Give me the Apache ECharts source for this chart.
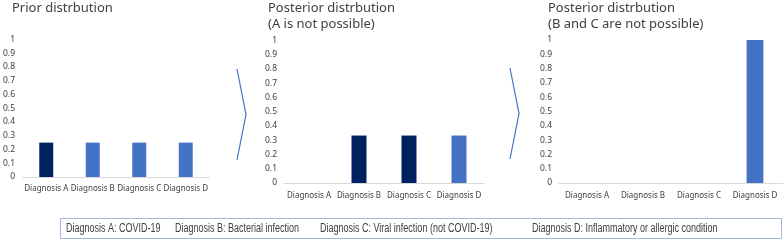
<!DOCTYPE html>
<html>
<head>
<meta charset="utf-8">
<script src="https://cdn.jsdelivr.net/npm/echarts@6/dist/echarts.min.js"></script>
<style>
  html, body { margin: 0; padding: 0; background: #fff; }
  #chart { width: 784px; height: 240px; }
</style>
</head>
<body>
<div id="chart"></div>
<script>
// 数据
var categories = ['Diagnosis A', 'Diagnosis B', 'Diagnosis C', 'Diagnosis D'];
var priorValues = [0.25, 0.25, 0.25, 0.25];
var postAValues = [0, 0.333, 0.333, 0.333];
var postBCValues = [0, 0, 0, 1];
var titles = ['Prior distrbution', 'Posterior distrbution\n(A is not possible)', 'Posterior distrbution\n(B and C are not possible)'];
var legendTexts = ['Diagnosis A: COVID-19', 'Diagnosis B: Bacterial infection', 'Diagnosis C: Viral infection (not COVID-19)', 'Diagnosis D: Inflammatory or allergic condition'];
// 深色柱子对应的类别
var dark1 = ['Diagnosis A'];
var dark2 = ['Diagnosis B', 'Diagnosis C'];
var dark3 = [];

var darkBlue = '#002060';
var lightBlue = '#4472c4';
var textColor = '#404040';
var labelFont = '"Noto Sans", "Open Sans", sans-serif';

var myChart = echarts.init(document.getElementById('chart'));

var grids = [
  {left: 19, top: 39.5, width: 190, height: 137.5},
  {left: 284, top: 40.5, width: 200, height: 142.5},
  {left: 559, top: 40, width: 224, height: 143}
];

function xAxisOf(i, margin) {
  return {
    type: 'category',
    gridIndex: i,
    data: categories,
    axisTick: {show: false},
    axisLine: {lineStyle: {color: '#d9d9d9', width: 1}},
    axisLabel: {color: textColor, fontSize: 8, fontFamily: labelFont, margin: margin, interval: 0}
  };
}

function yAxisOf(i, margin) {
  return {
    type: 'value',
    gridIndex: i,
    min: 0,
    max: 1,
    interval: 0.1,
    splitLine: {show: false},
    axisLine: {show: false},
    axisTick: {show: false},
    axisLabel: {color: textColor, fontSize: 8.5, fontFamily: labelFont, margin: margin}
  };
}

function barSeries(i, values, darkList) {
  return {
    type: 'bar',
    xAxisIndex: i,
    yAxisIndex: i,
    barWidth: '30%',
    data: values,
    itemStyle: {
      color: function (p) {
        return darkList.indexOf(categories[p.dataIndex]) >= 0 ? darkBlue : lightBlue;
      }
    }
  };
}

function titleOf(i, left) {
  return {
    text: titles[i],
    left: left,
    top: 0,
    padding: 0,
    textStyle: {
      color: textColor,
      fontSize: 13,
      fontWeight: 'normal',
      fontFamily: labelFont,
      lineHeight: 16
    }
  };
}

// 箭头
function arrow(x, yTop, yBottom, depth) {
  return {
    type: 'polyline',
    shape: {points: [[x, yTop], [x + depth, (yTop + yBottom) / 2], [x, yBottom]]},
    style: {stroke: lightBlue, lineWidth: 1.2, fill: null}
  };
}

// 底部说明框
var legendX = [66, 175, 320, 532];
var legendGraphic = [{
  type: 'rect',
  shape: {x: 60.5, y: 218.5, width: 721, height: 20},
  style: {stroke: '#a3b8d8', lineWidth: 1, fill: '#fff'}
}];
legendTexts.forEach(function (t, i) {
  legendGraphic.push({
    type: 'text',
    x: legendX[i],
    y: 229,
    scaleX: 0.75,
    style: {
      text: t,
      fill: textColor,
      fontSize: 12,
      fontFamily: '"Liberation Sans", Arial, sans-serif',
      verticalAlign: 'middle'
    }
  });
});

myChart.setOption({
  animation: false,
  title: [titleOf(0, 12), titleOf(1, 268), titleOf(2, 548)],
  grid: grids,
  xAxis: [xAxisOf(0, 8), xAxisOf(1, 9), xAxisOf(2, 9)],
  yAxis: [yAxisOf(0, 8), yAxisOf(1, 7), yAxisOf(2, 7)],
  series: [
    barSeries(0, priorValues, dark1),
    barSeries(1, postAValues, dark2),
    barSeries(2, postBCValues, dark3)
  ],
  graphic: [arrow(237, 69, 160, 9), arrow(510, 68, 159, 9)].concat(legendGraphic)
});
</script>
</body>
</html>
